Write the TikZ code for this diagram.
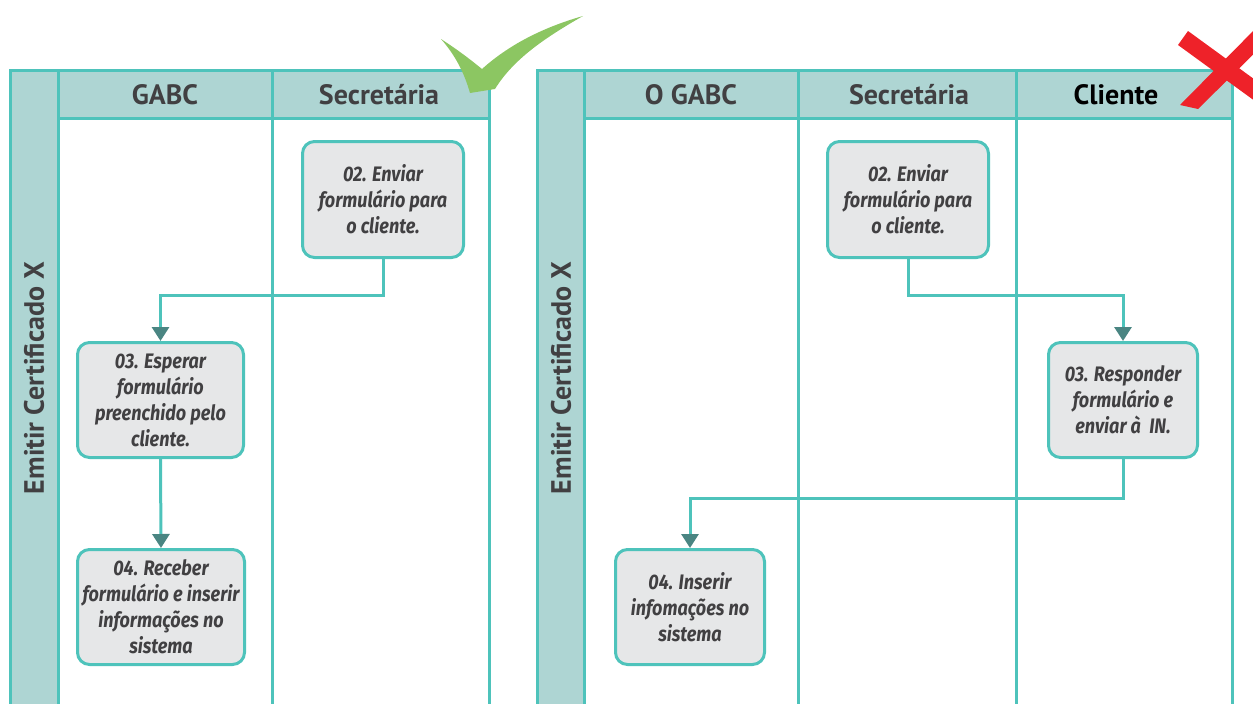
\documentclass[tikz,border=0pt]{standalone}
\usepackage{fontspec}
\setmainfont{PT Sans}
\newfontfamily\stepfont[FakeStretch=0.86]{Fira Sans}
\usetikzlibrary{arrows.meta}
\definecolor{laneline}{HTML}{4EC3BB}
\definecolor{lanefill}{HTML}{AED5D3}
\definecolor{boxfill}{HTML}{E6E7E8}
\definecolor{tipteal}{HTML}{4A8582}
\definecolor{inkgray}{HTML}{414042}
\definecolor{okgreen}{HTML}{8CC662}
\definecolor{badred}{HTML}{EE2229}
\tikzset{
  laneedge/.style={draw=laneline, line width=3pt},
  lanehead/.style={text=inkgray, font=\bfseries\fontsize{28}{32}\selectfont},
  lanetitle/.style={text=inkgray, rotate=90, font=\bfseries\fontsize{28}{32}\selectfont},
  stepbox/.style={draw=laneline, fill=boxfill, line width=3pt, rounded corners=12pt,
    align=center, text=inkgray, inner sep=0pt,
    font=\stepfont\bfseries\itshape\fontsize{21}{26}\selectfont},
  flow/.style={draw=laneline, line width=3pt,
    -{Triangle[width=17pt,length=14pt,color=tipteal]}}
}
\begin{document}
\begin{tikzpicture}[x=1pt,y=-1pt]
\useasboundingbox (0,0) rectangle (1253,704);
\begin{scope}
\clip (0,0) rectangle (1253,704);

% ---------- left pool ----------
\fill[lanefill] (10,70) rectangle (58,710);
\fill[lanefill] (58,70) rectangle (489,118);
\draw[laneedge] (10,710) -- (10,70) -- (489,70) -- (489,710);
\draw[laneedge] (58,118) -- (489,118);
\draw[laneedge] (58,70) -- (58,710);
\draw[laneedge] (272,70) -- (272,710);
\node[lanetitle] (ltitle) at (34,378) {Emitir Certificado X};
\node[lanehead] (lh1) at (165,95) {GABC};
\node[lanehead] (lh2) at (379,95) {Secretária};

\node[stepbox, minimum width=161pt, minimum height=116pt] (l2) at (383,199.5)
  {02. Enviar\\formulário para\\o cliente.};
\node[stepbox, minimum width=166pt, minimum height=115pt] (l3) at (160.5,400)
  {03. Esperar\\formulário\\preenchido pelo\\cliente.};
\node[stepbox, minimum width=167pt, minimum height=115pt] (l4) at (161,607)
  {04. Receber\\formulário e inserir\\informações no\\sistema};

\draw[flow] (l2.south) -- ++(0,36) -| (l3.north);
\draw[flow] (l3.south) -- (l4.north);

% ---------- right pool ----------
\fill[lanefill] (537,70) rectangle (584,710);
\fill[lanefill] (584,70) rectangle (1232,118);
\draw[laneedge] (537,710) -- (537,70) -- (1232,70) -- (1232,710);
\draw[laneedge] (584,118) -- (1232,118);
\draw[laneedge] (584,70) -- (584,710);
\draw[laneedge] (798,70) -- (798,710);
\draw[laneedge] (1016,70) -- (1016,710);
\node[lanetitle] (rtitle) at (561,378) {Emitir Certificado X};
\node[lanehead] (rh1) at (691,95) {O GABC};
\node[lanehead] (rh2) at (909,95) {Secretária};
\node[lanehead, text=black] (rh3) at (1116,95) {Cliente};

\node[stepbox, minimum width=161pt, minimum height=116pt] (r2) at (908,199.5)
  {02. Enviar\\formulário para\\o cliente.};
\node[stepbox, minimum width=149pt, minimum height=115pt] (r3) at (1123,400)
  {03. Responder\\formulário e\\enviar à\ \ IN.};
\node[stepbox, minimum width=149pt, minimum height=115pt] (r4) at (690,607)
  {04. Inserir\\infomações no\\sistema};

\draw[flow] (r2.south) -- ++(0,36) -| (r3.north);
\draw[flow] (r3.south) -- ++(0,39) -| (r4.north);

% ---------- check mark ----------
\fill[okgreen] (441,39) .. controls (458,50) and (471,60) .. (482,69)
  .. controls (512,42) and (548,26) .. (583,16)
  .. controls (548,36) and (514,58) .. (495,89)
  -- (470,93) .. controls (464,72) and (455,55) .. (441,39) -- cycle;

% ---------- cross ----------
\fill[badred] (1188,31) -- (1280,98) -- (1270,112) -- (1178,45) -- cycle;
\fill[badred] (1180,105) -- (1262,22) -- (1275,33) -- (1198,109) -- cycle;
\end{scope}
\end{tikzpicture}
\end{document}
